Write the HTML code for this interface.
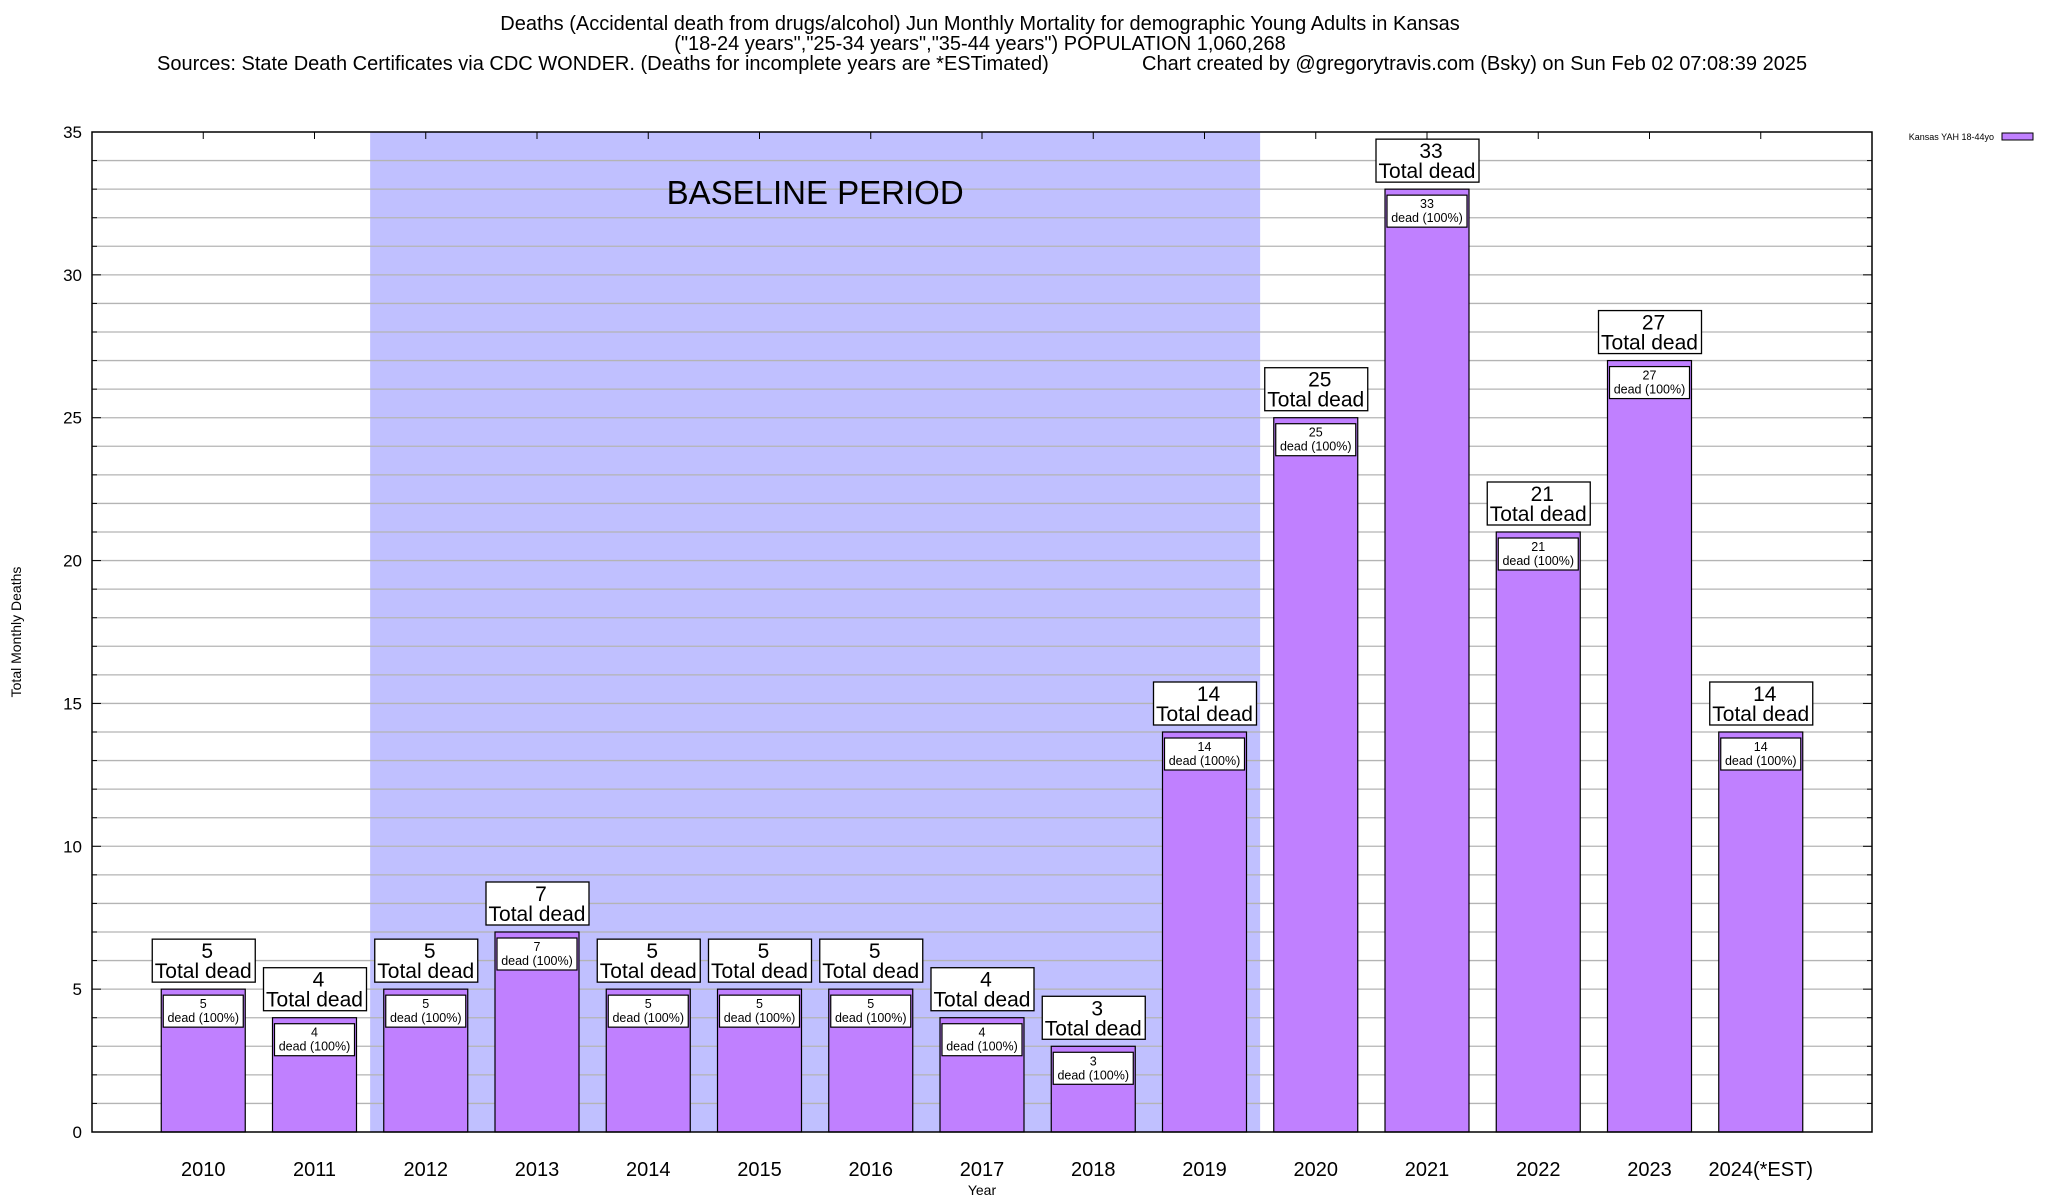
<!DOCTYPE html>
<html><head><meta charset="utf-8"><style>
html,body{margin:0;padding:0;background:#fff;}
svg{display:block;font-family:"Liberation Sans",sans-serif;}
</style></head><body>
<svg id="chart" width="2048" height="1200" viewBox="0 0 2048 1200">
<g font-size="20" fill="#000">
<text x="980" y="30" text-anchor="middle">Deaths (Accidental death from drugs/alcohol) Jun Monthly Mortality for demographic Young Adults in Kansas</text>
<text x="980" y="50" text-anchor="middle">("18-24 years","25-34 years","35-44 years") POPULATION 1,060,268</text>
<text x="157" y="70">Sources: State Death Certificates via CDC WONDER. (Deaths for incomplete years are *ESTimated)</text>
<text x="1142" y="70">Chart created by @gregorytravis.com (Bsky) on Sun Feb 02 07:08:39 2025</text>
</g>
<g id="layer"></g>
</svg>
<script>
const categories = ["2010","2011","2012","2013","2014","2015","2016","2017","2018","2019","2020","2021","2022","2023","2024(*EST)"];
const deaths = [5,4,5,7,5,5,5,4,3,14,25,33,21,27,14];
const yTicks = [0,5,10,15,20,25,30,35];
const baselineRange = [1.5, 9.5];

const L=92,R=1872,T=132,B=1132, yMax=35;
const X = i => L + (i+1)*(R-L)/16;
const Y = v => B - v*(B-T)/yMax;
const NS="http://www.w3.org/2000/svg";
const layer=document.getElementById('layer');
function mk(tag,attrs,parent){const e=document.createElementNS(NS,tag);for(const k in attrs)e.setAttribute(k,attrs[k]);(parent||layer).appendChild(e);return e;}

// baseline shading
const sh=mk('rect',{x:X(baselineRange[0]),y:T,width:X(baselineRange[1])-X(baselineRange[0]),height:B-T,fill:'#c0c0ff'});



// gridlines
for(let v=1;v<yMax;v++){
  const g=mk('line',{x1:L,x2:R,y1:Y(v),y2:Y(v),stroke:'#b4b4b4','stroke-width':1.3});
  
  
  const tl=mk('line',{x1:L,x2:L+(v%5==0?9:5),y1:Y(v),y2:Y(v),stroke:'#000'});
  
  
  const tr=mk('line',{x1:R,x2:R-(v%5==0?9:5),y1:Y(v),y2:Y(v),stroke:'#000'});
  
  
}
yTicks.forEach(v=>{
  const t=mk('text',{x:82,y:Y(v)+6,'text-anchor':'end','font-size':17});
  t.textContent=v;
  
  
});

const bt=mk('text',{x:(X(baselineRange[0])+X(baselineRange[1]))/2,y:204,'text-anchor':'middle','font-size':33});
bt.textContent='BASELINE PERIOD';



// bars
categories.forEach((c,i)=>{
  const v=deaths[i], cx=X(i), w=84;
  const b=mk('rect',{x:cx-w/2,y:Y(v),width:w,height:B-Y(v),fill:'#c080ff',stroke:'#000','stroke-width':1.2});
  
  
  const tk=mk('line',{x1:cx,x2:cx,y1:T,y2:T+7,stroke:'#000'});
  
  
  const sb=mk('rect',{x:cx-40,y:Y(v)+6,width:80,height:32,fill:'#fff',stroke:'#000','stroke-width':1.2});
  
  
  const s1=mk('text',{x:cx,y:Y(v)+19,'text-anchor':'middle','font-size':12.5});
  s1.textContent=v;
  
  
  const s2=mk('text',{x:cx,y:Y(v)+33,'text-anchor':'middle','font-size':12.5});
  s2.textContent='dead (100%)';
  
  
  const by=Y(v)-50;
  const bb=mk('rect',{x:cx-51,y:by,width:103,height:43,fill:'#fff',stroke:'#000','stroke-width':1.3});
  
  
  const b1=mk('text',{x:cx+4,y:by+19,'text-anchor':'middle','font-size':21});
  b1.textContent=v;
  
  
  const b2=mk('text',{x:cx,y:by+39,'text-anchor':'middle','font-size':21});
  b2.textContent='Total dead';
  
  
  const xl=mk('text',{x:cx,y:1176,'text-anchor':'middle','font-size':20});
  xl.textContent=c;
  
  
});

const fr=mk('rect',{x:L,y:T,width:R-L,height:B-T,fill:'none',stroke:'#000','stroke-width':1.5});



const xt=mk('text',{x:982,y:1195,'text-anchor':'middle','font-size':14});
xt.textContent='Year';


const yt=mk('text',{x:0,y:0,'text-anchor':'middle','font-size':14,transform:'translate(21,632) rotate(-90)'});
yt.textContent='Total Monthly Deaths';



const lt=mk('text',{x:1994,y:140,'text-anchor':'end','font-size':9});
lt.textContent='Kansas YAH 18-44yo';


const ls=mk('rect',{x:2002,y:133,width:31,height:7,fill:'#c080ff',stroke:'#000','stroke-width':1});


</script>
</body></html>
